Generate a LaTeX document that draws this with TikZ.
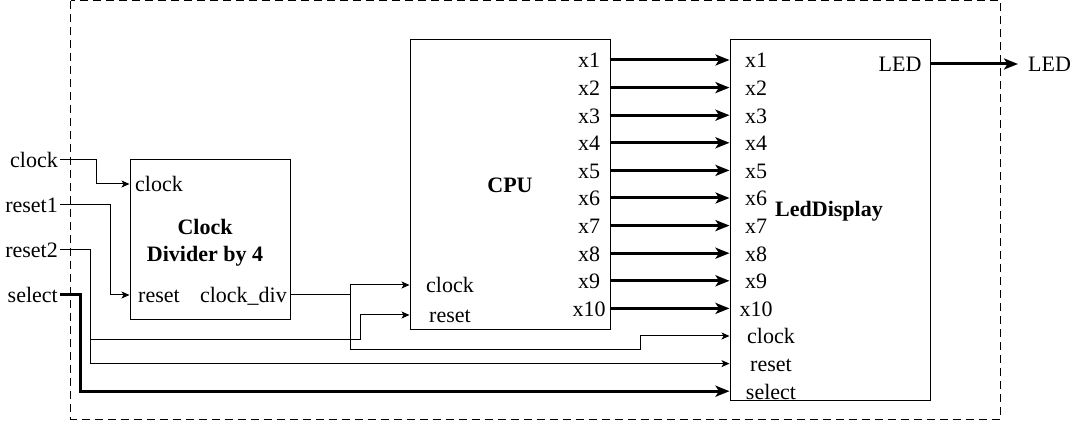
\documentclass[tikz,border=0pt]{standalone}
\usepackage{fontspec}
\setmainfont{Liberation Serif}
\usetikzlibrary{arrows.meta}

\tikzset{
  block/.style={draw, line width=1pt, inner sep=0pt},
  port/.style={inner sep=2pt, text height=16pt, text depth=0pt},
  title/.style={font=\bfseries\fontsize{22}{27}\selectfont, align=center},
  wire/.style={line width=1pt, -{Stealth[length=8pt,width=7pt,inset=2pt]}},
  bus/.style={line width=3pt, -{Stealth[length=14pt,width=11pt,inset=3.5pt]}},
}

\begin{document}
\begin{tikzpicture}[x=1pt, y=-1pt, font=\fontsize{22}{27}\selectfont]

\useasboundingbox (0,0) rectangle (1080,422);

\draw[line width=1pt, dash pattern=on 8pt off 5pt] (70.5,1) rectangle (1000,419);

% blocks
\node[block, minimum width=160pt, minimum height=160pt] (div) at (210,240) {};
\node[block, minimum width=200pt, minimum height=290pt] (cpu) at (510,185) {};
\node[block, minimum width=200pt, minimum height=360pt] (led) at (830,220) {};

\node[title] (div-name) at (205,243) {Clock\\Divider by 4};
\node[title, anchor=base] (cpu-name) at (510,193) {CPU};
\node[title, anchor=base] (led-name) at (829,217) {LedDisplay};

% inputs
\node[port, anchor=east] (in-clock) at (60,160) {clock};
\node[port, anchor=east] (in-reset1) at (60,205) {reset1};
\node[port, anchor=east] (in-reset2) at (60,250) {reset2};
\node[port, anchor=east] (in-select) at (60,295) {select};

\node[port, anchor=west] (div-clock) at (133,184) {clock};
\node[port, anchor=west] (div-reset) at (136,295) {reset};
\node[port, anchor=east] (div-clkdiv) at (289,295) {clock\_div};

\node[port] (cpu-clock) at (450,285) {clock};
\node[port] (cpu-reset) at (450,315) {reset};

\draw[wire] (in-clock.east) -| (96,184) -- (div.west |- 0,184);
\draw[wire] (in-reset1.east) -| (110,295) -- (div.west |- 0,295);

\draw[wire] (div.east |- 0,295) -| (350,285) -- (cpu.west |- 0,285);
\draw[wire] (div.east |- 0,295) -| (350,350) -| (640,336) -- (led.west |- 0,336);

\draw[wire] (in-reset2.east) -| (90,340) -| (360,315) -- (cpu.west |- 0,315);
\draw[wire] (in-reset2.east) -| (90,363.6) -- (led.west |- 0,363.6);

\draw[bus] (in-select.east) -| (80,391.2) -- (led.west |- 0,391.2);

% cpu outputs
\node[port] (cpu-x1) at (589,60) {x1};
\node[port] (cpu-x2) at (589,87.6) {x2};
\node[port] (cpu-x3) at (589,115.2) {x3};
\node[port] (cpu-x4) at (589,142.8) {x4};
\node[port] (cpu-x5) at (589,170.4) {x5};
\node[port] (cpu-x6) at (589,198) {x6};
\node[port] (cpu-x7) at (589,225.6) {x7};
\node[port] (cpu-x8) at (589,253.2) {x8};
\node[port] (cpu-x9) at (589,280.8) {x9};
\node[port] (cpu-x10) at (589,308.4) {x10};

% led inputs
\node[port] (led-x1) at (756,60) {x1};
\node[port] (led-x2) at (756,87.6) {x2};
\node[port] (led-x3) at (756,115.2) {x3};
\node[port] (led-x4) at (756,142.8) {x4};
\node[port] (led-x5) at (756,170.4) {x5};
\node[port] (led-x6) at (756,198) {x6};
\node[port] (led-x7) at (756,225.6) {x7};
\node[port] (led-x8) at (756,253.2) {x8};
\node[port] (led-x9) at (756,280.8) {x9};
\node[port] (led-x10) at (756,308.4) {x10};
\node[port] (led-clock) at (771,336) {clock};
\node[port] (led-reset) at (771,363.6) {reset};
\node[port] (led-select) at (771,391.2) {select};

\draw[bus] (cpu.east |- 0,60) -- (led.west |- 0,60);
\draw[bus] (cpu.east |- 0,87.6) -- (led.west |- 0,87.6);
\draw[bus] (cpu.east |- 0,115.2) -- (led.west |- 0,115.2);
\draw[bus] (cpu.east |- 0,142.8) -- (led.west |- 0,142.8);
\draw[bus] (cpu.east |- 0,170.4) -- (led.west |- 0,170.4);
\draw[bus] (cpu.east |- 0,198) -- (led.west |- 0,198);
\draw[bus] (cpu.east |- 0,225.6) -- (led.west |- 0,225.6);
\draw[bus] (cpu.east |- 0,253.2) -- (led.west |- 0,253.2);
\draw[bus] (cpu.east |- 0,280.8) -- (led.west |- 0,280.8);
\draw[bus] (cpu.east |- 0,308.4) -- (led.west |- 0,308.4);

% output
\node[port] (led-out) at (900,64) {LED};
\coordinate (led-tip) at (1018,64);
\node[port, anchor=west] (out-led) at (1026,64) {LED};
\draw[bus] (led.east |- led-tip) -- (led-tip);

\end{tikzpicture}
\end{document}
